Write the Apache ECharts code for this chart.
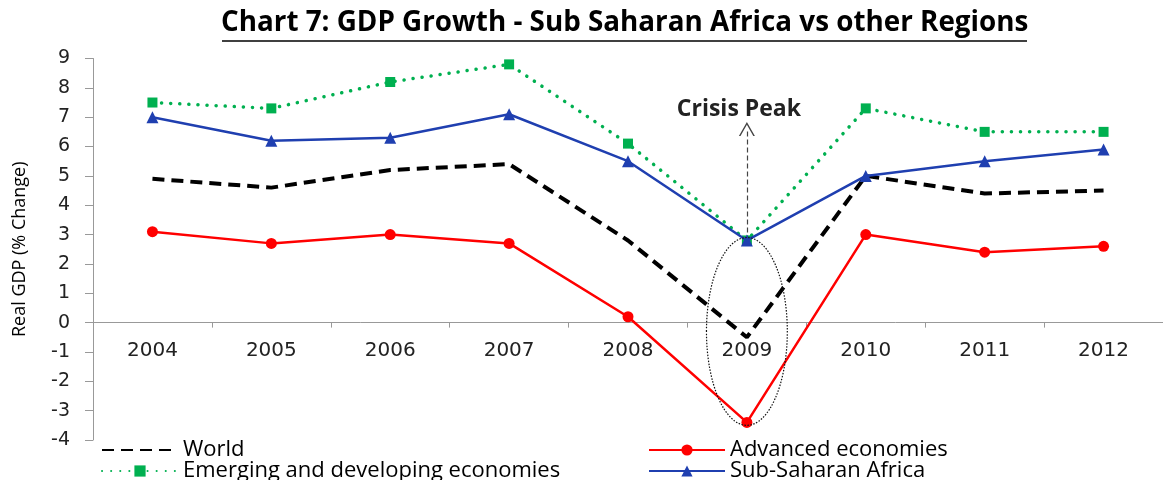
<!DOCTYPE html>
<html>
<head>
<meta charset="utf-8">
<script src="https://cdn.jsdelivr.net/npm/echarts@6/dist/echarts.min.js"></script>
<style>html,body{margin:0;padding:0;background:#fff}#c{width:1163px;height:480px}</style>
</head>
<body>
<div id="c"></div>
<script>
const years = ['2004','2005','2006','2007','2008','2009','2010','2011','2012'];
const world = [4.9, 4.6, 5.2, 5.4, 2.8, -0.5, 5.0, 4.4, 4.5];
const advanced = [3.1, 2.7, 3.0, 2.7, 0.2, -3.4, 3.0, 2.4, 2.6];
const emerging = [7.5, 7.3, 8.2, 8.8, 6.1, 2.8, 7.3, 6.5, 6.5];
const ssa = [7.0, 6.2, 6.3, 7.1, 5.5, 2.8, 5.0, 5.5, 5.9];
const seriesNames = ['World', 'Advanced economies', 'Emerging and developing economies', 'Sub-Saharan Africa'];
const titleText = 'Chart 7: GDP Growth - Sub Saharan Africa vs other Regions';
const yName = 'Real GDP (% Change)';
const annotation = 'Crisis Peak';
const crisisYear = '2009';
const arrowTop = 6.6;
const ellipseCenter = -0.3;
const ellipseSpan = 6.4;
const yMin = -4, yMax = 9;

const chart = echarts.init(document.getElementById('c'));
const axisFont = 'DejaVu Sans';
const textFont = 'Open Sans';
const gridTop = 58.5, gridBottom = 40, H = 480;
const gridH = H - gridTop - gridBottom;
// move the category axis up to the value 0 line
const zeroOffset = -((0 - yMin) / (yMax - yMin)) * gridH;

function legendAt(item, left, top) {
  return {
    data: [item],
    orient: 'horizontal', left: left, top: top, padding: 0,
    itemWidth: 76, itemHeight: 14, itemGap: 4,
    textStyle: { fontFamily: textFont, fontSize: 22, lineHeight: 20, color: '#000' }
  };
}

chart.setOption({
  animation: false,
  backgroundColor: '#fff',
  title: {
    text: titleText,
    left: 221,
    top: 9,
    padding: 0,
    textStyle: { fontFamily: textFont, fontWeight: 'bold', fontSize: 27.8, color: '#000' }
  },
  graphic: [{
    type: 'line', id: 'ul',
    shape: { x1: 222, y1: 41, x2: 1027, y2: 41 },
    style: { stroke: '#000', lineWidth: 1.5 }
  }],
  legend: [
    legendAt({ name: seriesNames[0], itemStyle: { opacity: 0 } }, 101, 439),
    legendAt(seriesNames[2], 101, 460),
    legendAt(seriesNames[1], 648, 439),
    legendAt(seriesNames[3], 648, 460)
  ],
  grid: { left: 93, top: gridTop, width: 1080, bottom: gridBottom, containLabel: false },
  xAxis: {
    type: 'category', data: years, boundaryGap: true,
    offset: zeroOffset,
    axisLine: { onZero: false, lineStyle: { color: '#999', width: 1 } },
    axisTick: { show: true, length: 5, lineStyle: { color: '#999' } },
    axisLabel: { margin: 18, fontFamily: axisFont, fontSize: 20, color: '#222' },
    splitLine: { show: false }
  },
  yAxis: {
    type: 'value', min: yMin, max: yMax, interval: 1,
    name: yName, nameLocation: 'middle', nameRotate: 90, nameGap: 64,
    nameTextStyle: { fontFamily: textFont, fontSize: 18, color: '#000' },
    axisLine: { show: true, lineStyle: { color: '#999', width: 1 } },
    axisTick: { show: true, length: 8, lineStyle: { color: '#999' } },
    axisLabel: { margin: 23, fontFamily: axisFont, fontSize: 19, color: '#222' },
    splitLine: { show: false }
  },
  series: [{
    name: seriesNames[0], type: 'line', data: world,
    symbol: 'none', color: '#000',
    lineStyle: { color: '#000', width: 4, type: [12, 7] },
    z: 2
  }, {
    name: seriesNames[1], type: 'line', data: advanced,
    symbol: 'circle', symbolSize: 11, color: '#FF0000',
    itemStyle: { color: '#FF0000' },
    lineStyle: { color: '#FF0000', width: 2.5 },
    z: 3
  }, {
    name: seriesNames[2], type: 'line', data: emerging,
    symbol: 'rect', symbolSize: 10, color: '#00B050',
    itemStyle: { color: '#00B050' },
    lineStyle: { color: '#00B050', width: 3.5, type: [0.1, 9], cap: 'round' },
    z: 4
  }, {
    name: seriesNames[3], type: 'line', data: ssa,
    symbol: 'triangle', symbolSize: 12, color: '#1F3FB0',
    itemStyle: { color: '#1F3FB0' },
    lineStyle: { color: '#1F3FB0', width: 2.5 },
    z: 5,
    markLine: {
      silent: true,
      symbol: ['none', 'path://M0,12 L6,0 L12,12 L10.8,12 L6,2.4 L1.2,12 Z'],
      symbolSize: [16, 14],
      lineStyle: { color: '#444', width: 1.2, type: [5, 3] },
      label: {
        show: true, position: 'end', formatter: annotation, distance: 8,
        offset: [-8, 0],
        fontFamily: textFont, fontWeight: 'bold', fontSize: 23, color: '#222'
      },
      data: [[{ coord: [crisisYear, ssa[years.indexOf(crisisYear)]] }, { coord: [crisisYear, arrowTop] }]]
    }
  }, {
    name: 'ellipse', type: 'custom', silent: true, z: 6,
    data: [[crisisYear, ellipseCenter]],
    renderItem: function (params, api) {
      const c = api.coord([api.value(0), api.value(1)]);
      const s = api.size([1, ellipseSpan]);
      return {
        type: 'ellipse',
        shape: { cx: c[0], cy: c[1], rx: s[0] * 0.34, ry: s[1] / 2 },
        style: { fill: 'none', stroke: '#111', lineWidth: 1.2, lineDash: [1.5, 1.5] }
      };
    }
  }]
});
</script>
</body>
</html>
